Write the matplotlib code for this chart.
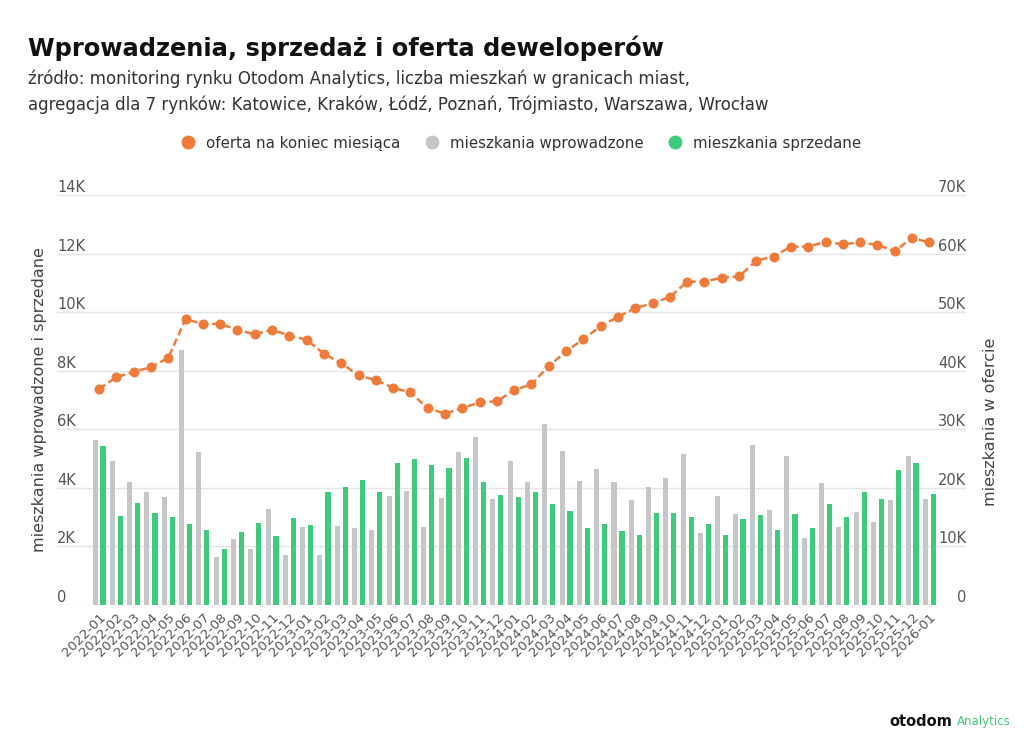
import numpy as np
import matplotlib
matplotlib.use("Agg")
import matplotlib.pyplot as plt
from matplotlib.lines import Line2D

months = [f"{y}-{m:02d}" for y in (2022, 2023, 2024, 2025) for m in range(1, 13)] + ["2026-01"]

# mieszkania wprowadzone (gray)
introduced = [5630, 4930, 4190, 3860, 3690, 8700, 5220, 1640, 2250, 1920, 3280, 1710,
              2660, 1720, 2710, 2620, 2570, 3730, 3900, 2670, 3660, 5220, 5730, 3620,
              4930, 4200, 6170, 5260, 4220, 4640, 4190, 3570, 4020, 4350, 5170, 2450,
              3730, 3120, 5460, 3230, 5100, 2290, 4150, 2660, 3160, 2820, 3570, 5100,
              3620]
# mieszkania sprzedane (green)
sold = [5430, 3040, 3490, 3150, 2990, 2750, 2550, 1920, 2500, 2790, 2370, 2980,
        2740, 3860, 4030, 4270, 3860, 4860, 4970, 4770, 4690, 5020, 4200, 3740,
        3700, 3860, 3450, 3200, 2620, 2780, 2540, 2400, 3150, 3150, 2990, 2750,
        2400, 2950, 3070, 2550, 3120, 2620, 3450, 2990, 3860, 3610, 4600, 4850,
        3790]
# oferta na koniec miesiaca (orange, right axis)
offer = [36900, 38900, 39800, 40600, 42200, 48800, 48000, 48000, 47000, 46200, 47000, 46000,
         45300, 42900, 41300, 39200, 38400, 37100, 36300, 33600, 32700, 33600, 34600, 34800,
         36700, 37700, 40800, 43300, 45400, 47600, 49200, 50700, 51500, 52600, 55200, 55200,
         55900, 56100, 58800, 59500, 61200, 61200, 62000, 61600, 61900, 61500, 60400, 62700,
         61900]

left_ticks = [0, 2000, 4000, 6000, 8000, 10000, 12000, 14000]
left_labels = ["0", "2K", "4K", "6K", "8K", "10K", "12K", "14K"]
right_ticks = [0, 10000, 20000, 30000, 40000, 50000, 60000, 70000]
right_labels = ["0", "10K", "20K", "30K", "40K", "50K", "60K", "70K"]

GRAY = "#c6c6c6"
GREEN = "#3ecb7c"
ORANGE = "#ef7b3b"
TXT = "#555555"

plt.rcParams["font.family"] = ["DejaVu Sans"]

fig = plt.figure(figsize=(10.24, 7.41), dpi=100)
ax = fig.add_axes([0.0557, 0.1835, 0.888, 0.5533])
ax2 = ax.twinx()

x = np.arange(len(months))
ax.bar(x - 0.23, introduced, width=0.29, color=GRAY, zorder=2)
ax.bar(x + 0.23, sold, width=0.30, color=GREEN, zorder=2)
ax2.plot(x, offer, color=ORANGE, lw=1.8, ls=(0, (3, 1.5)), marker="o", ms=6.2, zorder=3)

ax.set_xlim(-2.43, 50.14)
ax.set_ylim(0, 14000)
ax2.set_ylim(0, 70000)

ax.set_yticks(left_ticks)
ax.set_yticklabels(left_labels)
ax2.set_yticks(right_ticks)
ax2.set_yticklabels(right_labels)
ax.grid(axis="y", color="#e4e4e4", lw=1, zorder=0)
ax.set_axisbelow(True)

for s in ax.spines.values():
    s.set_visible(False)
for s in ax2.spines.values():
    s.set_visible(False)

ax.tick_params(axis="y", length=0, pad=0, labelsize=10.5, labelcolor=TXT)
ax2.tick_params(axis="y", length=0, pad=0, labelsize=10.5, labelcolor=TXT)
for lab in ax.get_yticklabels():
    lab.set_horizontalalignment("left")
    lab.set_verticalalignment("bottom")
for lab in ax2.get_yticklabels():
    lab.set_horizontalalignment("right")
    lab.set_verticalalignment("bottom")

ax.set_xticks(x)
ax.set_xticklabels(months, rotation=45, ha="right", rotation_mode="anchor",
                   fontsize=9.5, color=TXT)
ax.tick_params(axis="x", length=0, pad=4)

ax.set_ylabel("mieszkania wprowadzone i sprzedane", fontsize=11.5, color="#444444")
ax.yaxis.set_label_coords(-0.011, 0.5)
ax2.set_ylabel("mieszkania w ofercie", fontsize=11.5, color="#444444")
ax2.yaxis.set_label_coords(1.018, 0.446)

fig.text(0.027, 0.935, "Wprowadzenia, sprzedaż i oferta deweloperów", fontsize=17.4,
         fontweight="bold", color="#111111", va="center")
fig.text(0.027, 0.894, "źródło: monitoring rynku Otodom Analytics, liczba mieszkań w granicach miast,",
         fontsize=12, color="#333333", va="center")
fig.text(0.027, 0.858, "agregacja dla 7 rynków: Katowice, Kraków, Łódź, Poznań, Trójmiasto, Warszawa, Wrocław",
         fontsize=12, color="#333333", va="center")

handles = [Line2D([], [], ls="", marker="o", ms=9, color=ORANGE),
           Line2D([], [], ls="", marker="o", ms=9, color=GRAY),
           Line2D([], [], ls="", marker="o", ms=9, color=GREEN)]
fig.legend(handles, ["oferta na koniec miesiąca", "mieszkania wprowadzone", "mieszkania sprzedane"],
           loc="center", bbox_to_anchor=(0.505, 0.807), ncol=3, frameon=False,
           fontsize=10.8, handletextpad=0.2, columnspacing=1.1, labelcolor="#333333")

fig.text(0.930, 0.026, "otodom", fontsize=10.5, fontweight="bold", color="#111111",
         va="center", ha="right")
fig.text(0.934, 0.026, "Analytics", fontsize=8.5, color=GREEN, va="center", ha="left")

plt.savefig("out.png", dpi=100)
